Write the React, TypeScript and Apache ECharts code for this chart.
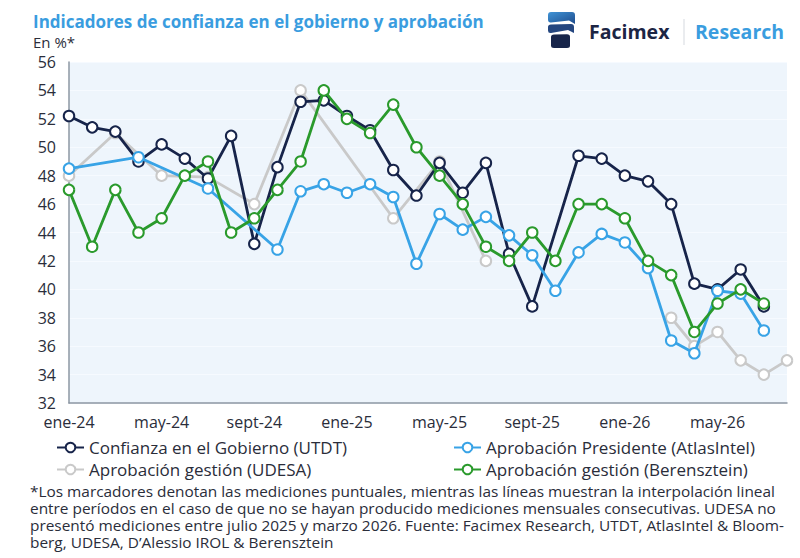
import React, { useEffect, useRef } from "react";
import * as echarts from "echarts";

const months = [
  "ene-24", "feb-24", "mar-24", "abr-24", "may-24", "jun-24", "jul-24", "ago-24",
  "sept-24", "oct-24", "nov-24", "dic-24", "ene-25", "feb-25", "mar-25", "abr-25",
  "may-25", "jun-25", "jul-25", "ago-25", "sept-25", "oct-25", "nov-25", "dic-25",
  "ene-26", "feb-26", "mar-26", "abr-26", "may-26", "jun-26", "jul-26", "ago-26",
];

const utdt = [
  52.2, 51.4, 51.1, 49.0, 50.2, 49.2, 47.8, 50.8, 43.2, 48.6, 53.2, 53.3, 52.2, 51.2, 48.4, 46.6,
  48.9, 46.8, 48.9, 42.5, 38.8, null, 49.4, 49.2, 48.0, 47.6, 46.0, 40.4, 40.0, 41.4, 38.8, null,
];
const atlas = [
  48.5, null, null, 49.3, null, null, 47.1, null, null, 42.8, 46.9, 47.4, 46.8, 47.4, 46.5, 41.8,
  45.3, 44.2, 45.1, 43.8, 42.4, 39.9, 42.6, 43.9, 43.3, 41.5, 36.4, 35.5, 39.9, 39.7, 37.1, null,
];
const udesa = [
  48, null, 51, null, 48, null, 47.9, null, 46, null, 54, null, null, null, 45, null,
  49, null, 42, null, null, null, null, null, null, null, 38, 36, 37, 35, 34, 35,
];
const berensztein = [
  47, 43, 47, 44, 45, 48, 49, 44, 45, 47, 49, 54, 52, 51, 53, 50,
  48, 46, 43, 42, 44, 42, 46, 46, 45, 42, 41, 37, 39, 40, 39, null,
];
// UDESA published nothing between these months (indices), so the line breaks there
const udesaGap = [19, 25];

const yTicks = { min: 32, max: 56, step: 2 };

const names = {
  utdt: "Confianza en el Gobierno (UTDT)",
  atlas: "Aprobación Presidente (AtlasIntel)",
  udesa: "Aprobación gestión (UDESA)",
  ber: "Aprobación gestión (Berensztein)",
};

const footnote = [
  "*Los marcadores denotan las mediciones puntuales, mientras las líneas muestran la interpolación lineal",
  "entre períodos en el caso de que no se hayan producido mediciones mensuales consecutivas. UDESA no",
  "presentó mediciones entre julio 2025 y marzo 2026. Fuente: Facimex Research, UTDT, AtlasIntel & Bloom-",
  "berg, UDESA, D’Alessio IROL & Berensztein",
];

const C = {
  navy: "#17244a",
  blue: "#38a3e6",
  gray: "#c9c9c9",
  green: "#2a9a2c",
  title: "#3a9ddf",
  text: "#2a2d3a",
};

const FONT = "'Open Sans', 'Noto Sans', sans-serif";

echarts.graphic.registerShape(
  "logoTop",
  echarts.graphic.extendPath(
    "M548,15 Q548,12 551,12 L572,12 Q575,12 575,15 L575,24 L569,20.5 L551,22.5 Q548,22.8 548,19.5 Z",
    {}
  )
);
echarts.graphic.registerShape(
  "logoMid",
  echarts.graphic.extendPath(
    "M548,27 Q548,24.5 551,24.5 L571,24 Q574,24 574,27 L574,33 L568,30 L551,33 Q548,33.4 548,30.5 Z",
    {}
  )
);
echarts.graphic.registerShape(
  "logoBot",
  echarts.graphic.extendPath(
    "M551,37 Q551,34.6 554,34.5 L567,34.2 Q570,34.2 570,37 L570,45.5 Q570,48 567,48 L554,48 Q551,48 551,45.5 Z",
    {}
  )
);

function lineSeries(name: string, data: (number | null)[], color: string, z: number) {
  return {
    name,
    type: "line",
    data,
    connectNulls: true,
    color,
    symbol: "circle",
    symbolSize: 10.5,
    showSymbol: true,
    z,
    lineStyle: { color, width: 2.8 },
    itemStyle: { color: "#ffffff", borderColor: color, borderWidth: 2 },
    emphasis: { disabled: true },
  };
}

export default function App() {
  const ref = useRef<HTMLDivElement>(null);

  useEffect(() => {
    if (!ref.current) return;
    const chart = echarts.init(ref.current, undefined, { renderer: "svg" });

    const udesaA = udesa.map((v, i) => (i < udesaGap[0] ? v : null));
    const udesaB = udesa.map((v, i) => (i > udesaGap[1] ? v : null));

    const legendText = { fontFamily: FONT, fontSize: 17, lineHeight: 17, color: C.text };

    chart.setOption({
      animation: false,
      backgroundColor: "#ffffff",
      textStyle: { fontFamily: FONT },
      grid: {
        left: 69,
        right: 13,
        top: 62,
        bottom: 155,
        show: true,
        backgroundColor: "#eef5fc",
        borderWidth: 0,
      },
      xAxis: {
        type: "category",
        data: months,
        boundaryGap: false,
        axisLine: { show: true, lineStyle: { color: "#8d97a3", width: 1.5 } },
        axisTick: { show: false },
        axisLabel: {
          interval: 3,
          margin: 11,
          fontFamily: FONT,
          fontSize: 16,
          color: C.text,
        },
        splitLine: { show: false },
      },
      yAxis: {
        type: "value",
        min: yTicks.min,
        max: yTicks.max,
        interval: yTicks.step,
        axisLine: { show: true, lineStyle: { color: "#8d97a3", width: 1.5 } },
        axisTick: { show: false },
        axisLabel: { margin: 13, fontFamily: FONT, fontSize: 16, color: C.text },
        splitLine: { show: true, lineStyle: { color: "#f6faff", width: 1 } },
      },
      legend: [
        {
          orient: "vertical",
          left: 51,
          top: 434,
          itemWidth: 27,
          itemHeight: 12,
          itemGap: 5,
          textStyle: legendText,
          data: [names.utdt, names.udesa],
        },
        {
          orient: "vertical",
          left: 448,
          top: 434,
          itemWidth: 27,
          itemHeight: 12,
          itemGap: 5,
          textStyle: legendText,
          data: [names.atlas, names.ber],
        },
      ],
      series: [
        lineSeries(names.udesa, udesaA, C.gray, 2),
        lineSeries(names.udesa, udesaB, C.gray, 2),
        lineSeries(names.utdt, utdt, C.navy, 3),
        lineSeries(names.atlas, atlas, C.blue, 4),
        lineSeries(names.ber, berensztein, C.green, 5),
      ],
      graphic: [
        {
          type: "text",
          x: 33,
          y: 21,
          style: {
            text: "Indicadores de confianza en el gobierno y aprobación",
            fill: C.title,
            font: `bold 17px ${FONT}`,
            verticalAlign: "middle",
          },
        },
        {
          type: "text",
          x: 33,
          y: 42,
          style: { text: "En %*", fill: C.text, font: `15px ${FONT}`, verticalAlign: "middle" },
        },
        {
          type: "logoTop",
          style: {
            fill: new echarts.graphic.LinearGradient(0, 0, 1, 1, [
              { offset: 0, color: "#3f93d6" },
              { offset: 1, color: "#1f4c8c" },
            ]),
          },
        },
        { type: "logoMid", style: { fill: "#24467f" } },
        { type: "logoBot", style: { fill: "#17254a" } },
        {
          type: "text",
          x: 589,
          y: 31,
          style: { text: "Facimex", fill: "#1c2544", font: `bold 19.5px ${FONT}`, verticalAlign: "middle" },
        },
        {
          type: "line",
          shape: { x1: 684, y1: 19, x2: 684, y2: 45 },
          style: { stroke: "#d5d9df", lineWidth: 1 },
        },
        {
          type: "text",
          x: 695,
          y: 31,
          style: { text: "Research", fill: C.title, font: `bold 19.5px ${FONT}`, verticalAlign: "middle" },
        },
        ...footnote.map((t, i) => ({
          type: "text",
          x: 30,
          y: 491 + i * 17,
          scaleX: 1.1,
          style: { text: t, fill: C.text, font: `14px ${FONT}`, verticalAlign: "middle" },
        })),
      ],
    });

    return () => chart.dispose();
  }, []);

  return (
    <div
      ref={ref}
      style={{ position: "fixed", left: 0, top: 0, width: 800, height: 558 }}
    />
  );
}
